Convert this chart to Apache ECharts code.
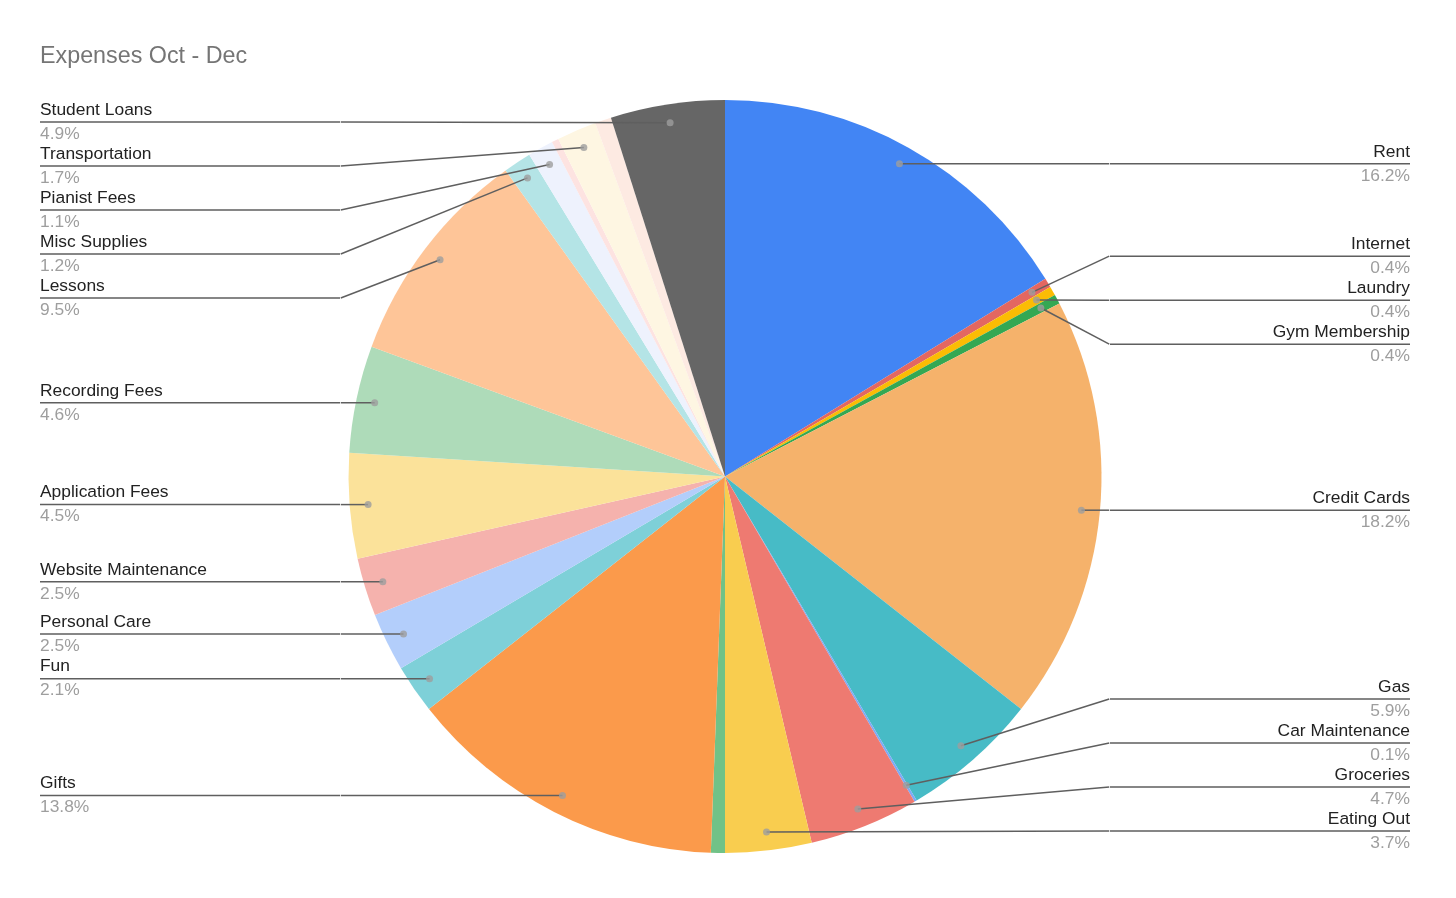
<!DOCTYPE html>
<html><head><meta charset="utf-8">
<script src="https://cdn.jsdelivr.net/npm/echarts@6/dist/echarts.min.js"></script>
<style>html,body{margin:0;padding:0;background:#fff}#c{width:1456px;height:898px}</style>
</head><body><div id="c"></div>
<script>
const titleText = 'Expenses Oct - Dec';
const categories = ['Rent','Internet','Laundry','Gym Membership','Credit Cards','Gas','Car Maintenance','Groceries','Eating Out','','Gifts','Fun','Personal Care','Website Maintenance','Application Fees','Recording Fees','Lessons','Misc Supplies','Pianist Fees','','Transportation','','Student Loans'];
const values = [16.2,0.4,0.4,0.4,18.2,5.9,0.1,4.7,3.7,0.6,13.8,2.1,2.5,2.5,4.5,4.6,9.5,1.2,1.1,0.3,1.7,0.7,4.9];
const colors = ['#4285F4','#E36761','#FBBC04','#34A853','#F5B26B','#47BBC6','#7BAAF7','#EE7A71','#F9CD4F','#71C287','#FB9A4B','#7ED0D8','#B3CEFB','#F5B2AD','#FBE29A','#AEDBB9','#FEC598','#B4E4E6','#EEF2FD','#FDE3E1','#FEF6E2','#FDEAE2','#666666'];

const FONT = "'Liberation Sans', Arial, sans-serif";
const CX = 725, CY = 476.5, R = 376.5, R_DOT = 358, GAP = 44;
const BOX_L = 40, BOX_R = 46;

const total = values.reduce((a, b) => a + b, 0);
const mids = []; let acc = 0;
values.forEach(v => { mids.push((acc + v / 2) / total * 100); acc += v; });
const isRight = mids.map(m => Math.sin(m / 100 * 2 * Math.PI) > 0);
const dotY = mids.map(m => CY - R_DOT * Math.cos(m / 100 * 2 * Math.PI));
const labelY = new Array(values.length);
const minY = CY - R + GAP / 2, maxY = CY + R - GAP / 2;

function layoutSide(right) {
  const items = [];
  categories.forEach((c, i) => { if (c !== '' && isRight[i] === right) items.push(i); });
  items.sort((a, b) => dotY[a] - dotY[b]);
  const clusters = items.map(i => ({ m: [i], s: 0 }));
  const place = c => {
    const n = c.m.length;
    const mean = c.m.reduce((a, i) => a + dotY[i], 0) / n;
    let s = mean - (n - 1) * GAP / 2;
    s = Math.max(s, minY);
    s = Math.min(s, maxY - (n - 1) * GAP);
    c.s = s;
  };
  clusters.forEach(place);
  let merged = true;
  while (merged) {
    merged = false;
    for (let k = 0; k < clusters.length - 1; k++) {
      const a = clusters[k], b = clusters[k + 1];
      const aEnd = a.s + (a.m.length - 1) * GAP;
      if (b.s - aEnd < GAP - 0.01) {
        a.m = a.m.concat(b.m); clusters.splice(k + 1, 1); place(a); merged = true; break;
      }
    }
  }
  clusters.forEach(c => c.m.forEach((i, j) => { labelY[i] = c.s + j * GAP; }));
}
layoutSide(true); layoutSide(false);

const pieData = categories.map((c, i) => ({ name: c, value: values[i], itemStyle: { color: colors[i] } }));
const labelData = categories.map((c, i) => {
  const d = { name: c, value: values[i] };
  if (c === '') { d.label = { show: false }; d.labelLine = { show: false }; }
  return d;
});
const dotData = [];
categories.forEach((c, i) => { if (c !== '') dotData.push([R_DOT, mids[i]]); });

const chart = echarts.init(document.getElementById('c'), null, { renderer: 'canvas' });
const rowBase = { fontSize: 17.4, lineHeight: 24, fontFamily: FONT };
const LINE_C = '#5f5f5f', LINE_W = 1.5;
chart.setOption({
  animation: false,
  backgroundColor: '#ffffff',
  title: { text: titleText, left: 40, top: 45, padding: 0, textStyle: { fontSize: 23.3, fontWeight: 'normal', color: '#757575', fontFamily: FONT } },
  polar: { center: [CX, CY], radius: R },
  angleAxis: { type: 'value', min: 0, max: 100, startAngle: 90, clockwise: true, show: false },
  radiusAxis: { type: 'value', min: 0, max: R, show: false },
  series: [
    {
      type: 'pie', left: BOX_L, right: BOX_R, top: 0, bottom: 0,
      center: [CX - BOX_L, CY], radius: R, startAngle: 90, clockwise: true,
      silent: true, emphasis: { disabled: true },
      label: { show: false }, labelLine: { show: false },
      itemStyle: { borderWidth: 0 },
      data: pieData, z: 2
    },
    {
      type: 'pie', left: BOX_L, right: BOX_R, top: 0, bottom: 0,
      center: [CX - BOX_L, CY], radius: R_DOT, startAngle: 90, clockwise: true,
      silent: true, emphasis: { disabled: true }, avoidLabelOverlap: false,
      itemStyle: { color: 'rgba(0,0,0,0)', borderWidth: 0 },
      label: {
        show: true, position: 'outside', alignTo: 'edge', edgeDistance: 0, width: 300,
        fontFamily: FONT,
        formatter: p => {
          const i = p.dataIndex, s = isRight[i] ? 'R' : 'L';
          return '{name' + s + '|' + p.name + '}\n{hr|}\n{per' + s + '|' + values[i].toFixed(1) + '%}';
        },
        rich: {
          nameL: Object.assign({ color: '#222222', align: 'left' }, rowBase),
          nameR: Object.assign({ color: '#222222', align: 'right' }, rowBase),
          perL: Object.assign({ color: '#9E9E9E', align: 'left' }, rowBase),
          perR: Object.assign({ color: '#9E9E9E', align: 'right' }, rowBase),
          hr: { width: '100%', height: 0, borderColor: LINE_C, borderWidth: LINE_W }
        }
      },
      labelLine: { show: true, length: 0, length2: 0, smooth: false, lineStyle: { color: LINE_C, width: LINE_W } },
      labelLayout: params => {
        const i = params.dataIndex;
        const y = labelY[i];
        if (y == null || !params.labelLinePoints) return {};
        const r = params.labelRect;
        const innerX = isRight[i] ? r.x : r.x + r.width;
        return { y: y, labelLinePoints: [params.labelLinePoints[0], [innerX, y], [innerX, y]] };
      },
      data: labelData, z: 3
    },
    {
      type: 'scatter', coordinateSystem: 'polar', silent: true, z: 5,
      symbol: 'circle', symbolSize: 7, itemStyle: { color: '#9E9E9E' },
      data: dotData
    }
  ]
});
</script></body></html>
